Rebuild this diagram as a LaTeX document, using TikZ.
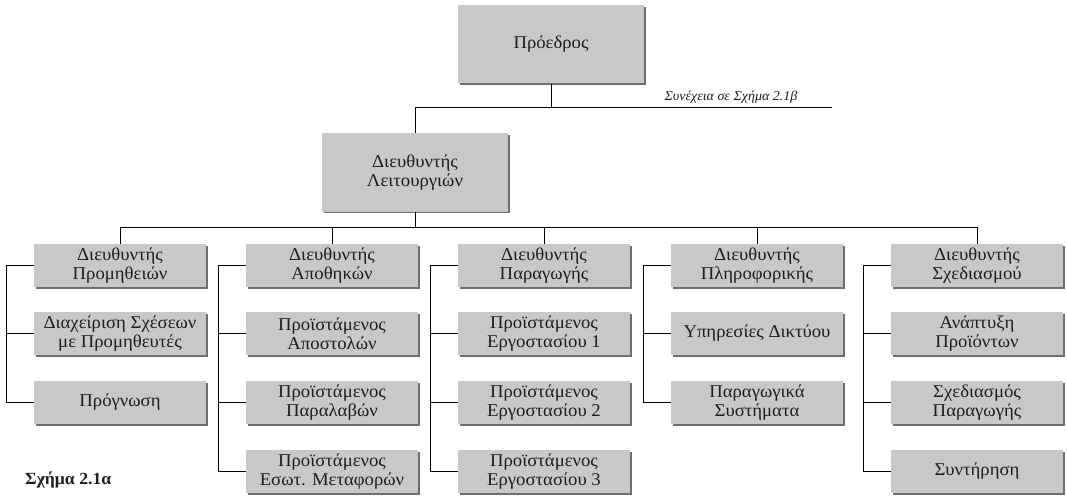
\documentclass[tikz,border=0pt]{standalone}
\usepackage{fontspec}
\setmainfont{Liberation Serif}
\newfontfamily\boxfont[FakeStretch=1.04]{Liberation Serif}
\usetikzlibrary{shadows}
\definecolor{boxgray}{RGB}{200,200,200}
\definecolor{shadegray}{RGB}{110,110,110}
\definecolor{inkgray}{RGB}{30,30,30}
\tikzset{
  orgbox/.style={fill=boxgray, draw=none, align=center, inner sep=0pt,
    text=inkgray, font=\boxfont\fontsize{18}{18.5}\selectfont,
    drop shadow={shadow xshift=1.6pt, shadow yshift=-1.6pt, fill=shadegray, opacity=1}},
  topbox/.style={orgbox, minimum width=186pt, minimum height=78pt},
  unitbox/.style={orgbox, minimum width=172pt, minimum height=43pt},
  link/.style={draw=black, line width=1pt}
}
\begin{document}
\begin{tikzpicture}[x=1pt, y=-1pt]
\useasboundingbox (0,0) rectangle (1067,497);

% top level
\node[topbox] (pres) at (551,44.5) {Πρόεδρος};
\node[topbox] (ops) at (415,172.5) {Διευθυντής\\Λειτουργιών};

% directors
\node[unitbox] (d1) at (120,265.5) {Διευθυντής\\Προμηθειών};
\node[unitbox] (d2) at (332,265.5) {Διευθυντής\\Αποθηκών};
\node[unitbox] (d3) at (544,265.5) {Διευθυντής\\Παραγωγής};
\node[unitbox] (d4) at (757,265.5) {Διευθυντής\\Πληροφορικής};
\node[unitbox] (d5) at (977,265.5) {Διευθυντής\\Σχεδιασμού};

% supplies
\node[unitbox] (s12) at (120,333.5) {Διαχείριση Σχέσεων\\με Προμηθευτές};
\node[unitbox] (s13) at (120,402.5) {Πρόγνωση};
% warehouses
\node[unitbox] (s22) at (332,333.5) {Προϊστάμενος\\Αποστολών};
\node[unitbox] (s23) at (332,402.5) {Προϊστάμενος\\Παραλαβών};
\node[unitbox] (s24) at (332,471.5) {Προϊστάμενος\\Εσωτ. Μεταφορών};
% production
\node[unitbox] (s32) at (544,333.5) {Προϊστάμενος\\Εργοστασίου 1};
\node[unitbox] (s33) at (544,402.5) {Προϊστάμενος\\Εργοστασίου 2};
\node[unitbox] (s34) at (544,471.5) {Προϊστάμενος\\Εργοστασίου 3};
% IT
\node[unitbox] (s42) at (757,333.5) {Υπηρεσίες Δικτύου};
\node[unitbox] (s43) at (757,402.5) {Παραγωγικά\\Συστήματα};
% design
\node[unitbox] (s52) at (977,333.5) {Ανάπτυξη\\Προϊόντων};
\node[unitbox] (s53) at (977,402.5) {Σχεδιασμός\\Παραγωγής};
\node[unitbox] (s54) at (977,471.5) {Συντήρηση};

% upper connectors
\coordinate (jt) at (551,108);
\coordinate (jl) at (415,108);
\coordinate (cont) at (832,108);
\coordinate (bus) at (415,227);
\draw[link] (pres.south) -- (jt);
\draw[link] (ops.north) -- (jl) -- (cont);
\node[anchor=base, inner sep=0pt, text=inkgray,
  font=\boxfont\fontsize{13.5}{15}\selectfont\itshape] (conttext) at (731,101)
  {Συνέχεια σε Σχήμα 2.1β};

% bus to the directors
\draw[link] (ops.south) -- (bus);
\draw[link] (d1.north) -- (d1.north |- bus) -- (d5.north |- bus) -- (d5.north);
\foreach \d in {d2,d3,d4}
  \draw[link] (\d.north) -- (\d.north |- bus);

% elbow connectors within each department
\draw[link] (d1.west) -- ++(-27,0) coordinate (e1) |- (s13.west);
\draw[link] (s12.west) -- (s12.west -| e1);

\draw[link] (d2.west) -- ++(-27,0) coordinate (e2) |- (s24.west);
\draw[link] (s22.west) -- (s22.west -| e2);
\draw[link] (s23.west) -- (s23.west -| e2);

\draw[link] (d3.west) -- ++(-27,0) coordinate (e3) |- (s34.west);
\draw[link] (s32.west) -- (s32.west -| e3);
\draw[link] (s33.west) -- (s33.west -| e3);

\draw[link] (d4.west) -- ++(-27,0) coordinate (e4) |- (s43.west);
\draw[link] (s42.west) -- (s42.west -| e4);

\draw[link] (d5.west) -- ++(-27,0) coordinate (e5) |- (s54.west);
\draw[link] (s52.west) -- (s52.west -| e5);
\draw[link] (s53.west) -- (s53.west -| e5);

% caption
\node[anchor=base west, inner sep=0pt, text=inkgray,
  font=\boxfont\fontsize{17}{19}\selectfont\bfseries] (caption) at (25,484) {Σχήμα 2.1α};
\end{tikzpicture}
\end{document}
